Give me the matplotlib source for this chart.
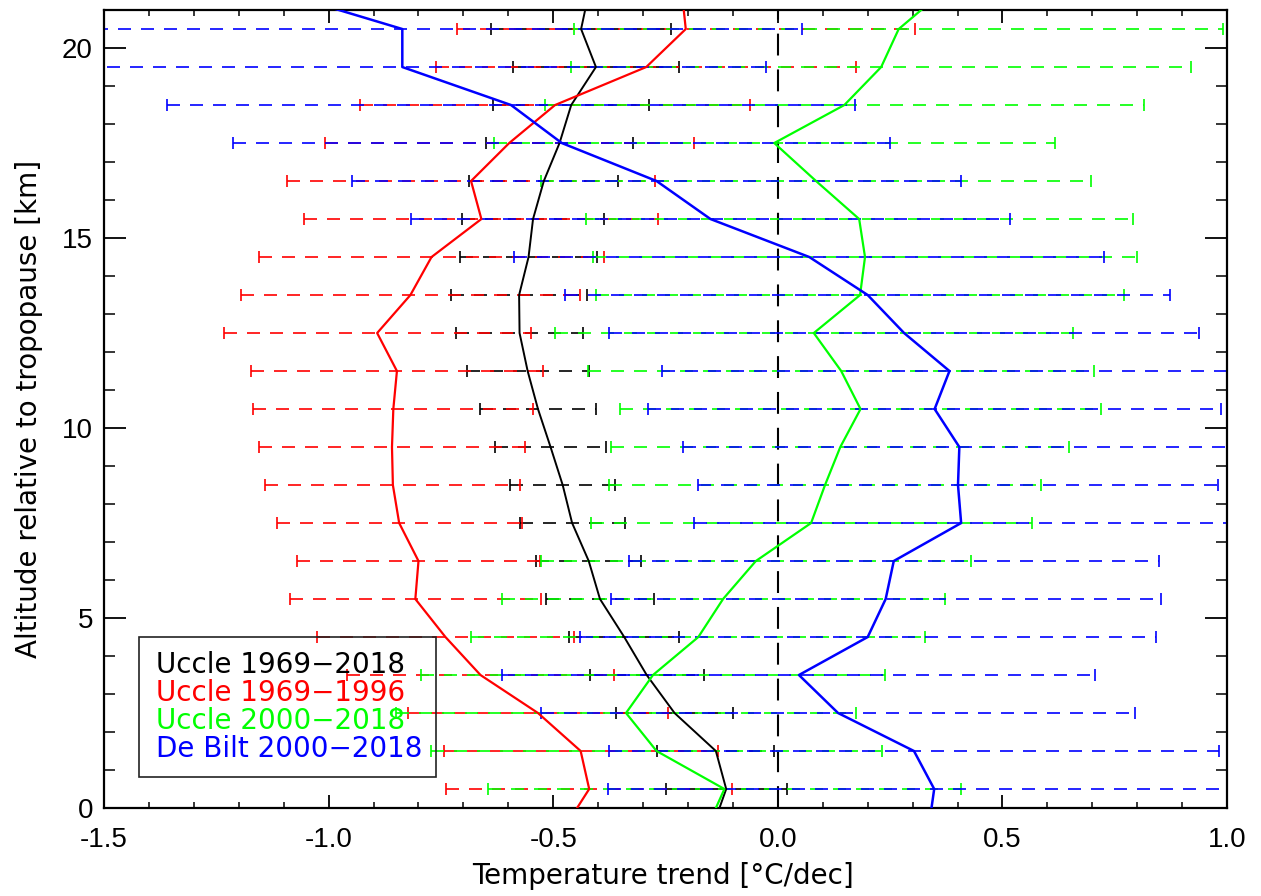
import matplotlib
matplotlib.use("Agg")
import matplotlib.pyplot as plt
from matplotlib.ticker import MultipleLocator, FormatStrFormatter

# Altitude relative to tropopause [km]; first/last entries lie just outside the plotted range
altitude = [-0.5, 0.5, 1.5, 2.5, 3.5, 4.5, 5.5, 6.5, 7.5, 8.5, 9.5, 10.5,
            11.5, 12.5, 13.5, 14.5, 15.5, 16.5, 17.5, 18.5, 19.5, 20.5, 21.5]

# Temperature trends [°C/dec]
uccle_1969_2018 = [-0.145, -0.115, -0.138, -0.230, -0.292, -0.342, -0.396, -0.421, -0.458,
                   -0.479, -0.506, -0.534, -0.557, -0.575, -0.576, -0.555, -0.545, -0.521,
                   -0.486, -0.460, -0.405, -0.438, -0.420]
uccle_1969_1996 = [-0.474, -0.420, -0.439, -0.534, -0.662, -0.740, -0.807, -0.800, -0.843,
                   -0.857, -0.859, -0.856, -0.848, -0.892, -0.818, -0.771, -0.660, -0.683,
                   -0.598, -0.496, -0.293, -0.205, -0.214]
uccle_2000_2018 = [-0.157, -0.119, -0.270, -0.338, -0.278, -0.177, -0.122, -0.049, 0.074,
                   0.105, 0.139, 0.184, 0.141, 0.080, 0.183, 0.194, 0.181, 0.085,
                   -0.008, 0.148, 0.230, 0.269, 0.369]
debilt_2000_2018 = [0.336, 0.348, 0.303, 0.134, 0.047, 0.200, 0.240, 0.258, 0.408,
                    0.401, 0.404, 0.349, 0.382, 0.281, 0.200, 0.070, -0.150, -0.270,
                    -0.481, -0.594, -0.836, -0.836, -1.118]

# Uncertainty (half-width) at the levels 0.5 ... 20.5 km
err_uccle_1969_2018 = [0.135, 0.130, 0.131, 0.127, 0.123, 0.120, 0.117, 0.117, 0.117, 0.123,
                       0.130, 0.136, 0.141, 0.152, 0.153, 0.158, 0.166, 0.163, 0.174, 0.185,
                       0.200]
err_uccle_1969_1996 = [0.319, 0.305, 0.290, 0.298, 0.286, 0.280, 0.271, 0.273, 0.284, 0.297,
                       0.312, 0.325, 0.342, 0.378, 0.385, 0.394, 0.409, 0.411, 0.434, 0.467,
                       0.510]
err_uccle_2000_2018 = [0.527, 0.502, 0.512, 0.517, 0.505, 0.493, 0.478, 0.491, 0.481, 0.510,
                       0.535, 0.563, 0.577, 0.587, 0.605, 0.609, 0.613, 0.625, 0.667, 0.690,
                       0.722]
err_debilt_2000_2018 = [0.726, 0.678, 0.662, 0.660, 0.641, 0.612, 0.590, 0.595, 0.578, 0.615,
                        0.637, 0.639, 0.657, 0.674, 0.657, 0.667, 0.677, 0.731, 0.766, 0.810,
                        0.890]

labels = ["Uccle 1969\u22122018", "Uccle 1969\u22121996",
          "Uccle 2000\u22122018", "De Bilt 2000\u22122018"]
colors = ["#000000", "#ff0000", "#00ff00", "#0000ff"]
line_widths = [1.4, 1.6, 1.6, 1.8]

series = [uccle_1969_2018, uccle_1969_1996, uccle_2000_2018, debilt_2000_2018]
errors = [err_uccle_1969_2018, err_uccle_1969_1996, err_uccle_2000_2018, err_debilt_2000_2018]

fig = plt.figure(figsize=(12.61, 8.96), dpi=100)
ax = fig.add_axes([0.0825, 0.0982, 0.8906, 0.8906])

# dashed error bars
for vals, err, col in zip(series, errors, colors):
    eb = ax.errorbar(vals[1:-1], altitude[1:-1], xerr=err, fmt="none", ecolor=col,
                     elinewidth=1.2, capsize=4.5, capthick=1.2, zorder=2)
    eb[2][0].set_linestyle((0, (7.8, 6.0)))

# zero line
ax.axvline(0.0, color="black", lw=1.5, ls=(0, (10.5, 6.7)), zorder=1)

# trend profiles
handles = []
for vals, col, lw, lab in zip(series, colors, line_widths, labels):
    h, = ax.plot(vals, altitude, color=col, lw=lw, label=lab, zorder=3)
    handles.append(h)

ax.set_xlim(-1.5, 1.0)
ax.set_ylim(0, 21)

ax.xaxis.set_major_locator(MultipleLocator(0.5))
ax.xaxis.set_minor_locator(MultipleLocator(0.1))
ax.xaxis.set_major_formatter(FormatStrFormatter("%.1f"))
ax.yaxis.set_major_locator(MultipleLocator(5))
ax.yaxis.set_minor_locator(MultipleLocator(1))

ax.tick_params(axis="x", which="major", direction="in", length=9.5, width=1.3,
               top=True, bottom=True, pad=14, labelsize=20)
ax.tick_params(axis="x", which="minor", direction="in", length=4.5, width=1.1,
               top=True, bottom=True)
ax.tick_params(axis="y", which="major", direction="in", length=16, width=1.3,
               left=True, right=True, pad=8, labelsize=20)
ax.tick_params(axis="y", which="minor", direction="in", length=8, width=1.1,
               left=True, right=True)
for lab in ax.get_xticklabels() + ax.get_yticklabels():
    lab.set_family(["Liberation Sans", "DejaVu Sans"])

for sp in ax.spines.values():
    sp.set_linewidth(1.6)

ax.set_xlabel("Temperature trend [\u00b0C/dec]", fontsize=20, family="DejaVu Sans")
ax.set_ylabel("Altitude relative to tropopause [km]", fontsize=20, family="DejaVu Sans")
ax.xaxis.set_label_coords(0.498, -0.068)
ax.yaxis.set_label_coords(-0.054, 0.5)

leg = ax.legend(handles=handles, loc="lower left", bbox_to_anchor=(0.031, 0.039),
                handlelength=0, handletextpad=0.1, labelcolor="linecolor",
                prop={"family": "DejaVu Sans", "size": 20}, frameon=True,
                fancybox=False, borderpad=0.5, labelspacing=0.0,
                borderaxespad=0)
for h in leg.legend_handles:
    h.set_visible(False)
frame = leg.get_frame()
frame.set_facecolor("none")
frame.set_edgecolor("#222222")
frame.set_linewidth(1.2)
frame.set_alpha(None)

fig.savefig("out.png", dpi=100)
